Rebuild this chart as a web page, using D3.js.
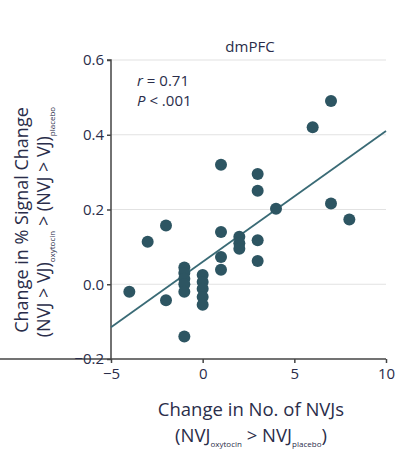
<!DOCTYPE html>
<html><head><meta charset="utf-8">
<script src="https://cdn.jsdelivr.net/npm/d3@7"></script>
<style>
body{margin:0;background:#fff;}
text{font-family:"Open Sans",sans-serif;fill:#2a2d4a;}
</style></head><body>
<svg id="c" width="397" height="451"></svg>
<script>
const xVals = [7, 6, 1, 3, 3, 4, 7, 8, -2, -3, 1, 2, 2, 2, 3, 3, 1, 1, -4, -2, -1, -1, -1, -1, -1, -1, 0, 0, 0, 0, 0];
const yVals = [0.49, 0.42, 0.32, 0.295, 0.25, 0.202, 0.216, 0.173, 0.157, 0.114, 0.14, 0.127, 0.11, 0.095, 0.118, 0.062, 0.073, 0.039, -0.02, -0.043, 0.045, 0.03, 0.015, 0.0, -0.02, -0.14, 0.025, 0.006, -0.012, -0.034, -0.055];
const xTicks = [-5, 0, 5, 10];
const yTicks = [-0.2, 0.0, 0.2, 0.4, 0.6];
const fitLine = [[-5, -0.115], [10, 0.41]];
const title = "dmPFC";

const svg = d3.select("#c");
const x = d3.scaleLinear().domain([-5, 10]).range([111, 386]);
const y = d3.scaleLinear().domain([-0.2, 0.6]).range([359, 60]);

// gridlines
svg.append("g").selectAll("line").data(yTicks.filter(d => d > -0.2)).join("line")
  .attr("x1", x(-5)).attr("x2", x(10)).attr("y1", d => y(d)).attr("y2", d => y(d))
  .attr("stroke", "#e2e2e2").attr("stroke-width", 1.2);

// axes
const gx = svg.append("g").attr("transform", `translate(0,${y(-0.2)})`)
  .call(d3.axisBottom(x).tickValues(xTicks).tickFormat(d => d < 0 ? "\u2212" + Math.abs(d) : d).tickSize(4).tickPadding(5));
const gy = svg.append("g").attr("transform", `translate(${x(-5)},0)`)
  .call(d3.axisLeft(y).tickValues(yTicks).tickFormat(d => (d < 0 ? "\u2212" : "") + Math.abs(d).toFixed(1)).tickSize(4).tickPadding(3));
[gx, gy].forEach(g => {
  g.select(".domain").attr("stroke", "#444").attr("stroke-width", 1.5);
  g.selectAll(".tick line").attr("stroke", "#444").attr("stroke-width", 1.5);
  g.selectAll(".tick text").style("font-size", "15px").attr("fill", "#2a2d4a");
});
gy.select(".domain").attr("d", `M-4,${y(0.6)}H0V${y(-0.2)}`);
gx.select(".domain").attr("d", `M0,0H${x(10)}`);

// fit line
svg.append("line")
  .attr("x1", x(fitLine[0][0])).attr("y1", y(fitLine[0][1]))
  .attr("x2", x(fitLine[1][0])).attr("y2", y(fitLine[1][1]))
  .attr("stroke", "#3a6b76").attr("stroke-width", 1.8);

// points
svg.append("g").selectAll("circle").data(xVals.map((d, i) => [d, yVals[i]])).join("circle")
  .attr("cx", d => x(d[0])).attr("cy", d => y(d[1])).attr("r", 6)
  .attr("fill", "#2d5562");

// title
svg.append("text").attr("x", 250).attr("y", 52).attr("text-anchor", "middle")
  .style("font-size", "15px").text(title);

// stats
svg.append("text").attr("x", 137).attr("y", 86).style("font-size", "15px")
  .html('<tspan font-style="italic">r</tspan> = 0.71');
svg.append("text").attr("x", 137).attr("y", 106).style("font-size", "15px")
  .html('<tspan font-style="italic">P</tspan> &lt; .001');

// x label
svg.append("text").attr("x", 251).attr("y", 416).attr("text-anchor", "middle")
  .style("font-size", "18.5px").text("Change in No. of NVJs");
svg.append("text").attr("x", 251).attr("y", 442).attr("text-anchor", "middle")
  .style("font-size", "18.5px")
  .html('(NVJ<tspan dy="5" font-size="8">oxytocin</tspan><tspan dy="-5"> &gt; NVJ</tspan><tspan dy="5" font-size="8">placebo</tspan><tspan dy="-5">)</tspan>');

// y label
svg.append("text").attr("transform", "translate(28,220) rotate(-90)").attr("text-anchor", "middle")
  .style("font-size", "18px").text("Change in % Signal Change");
svg.append("text").attr("transform", "translate(50,222) rotate(-90)").attr("text-anchor", "middle")
  .style("font-size", "18px")
  .html('(NVJ &gt; VJ)<tspan dy="5" font-size="8">oxytocin</tspan><tspan dy="-5"> &gt; (NVJ &gt; VJ)</tspan><tspan dy="5" font-size="8">placebo</tspan>');
</script></body></html>
